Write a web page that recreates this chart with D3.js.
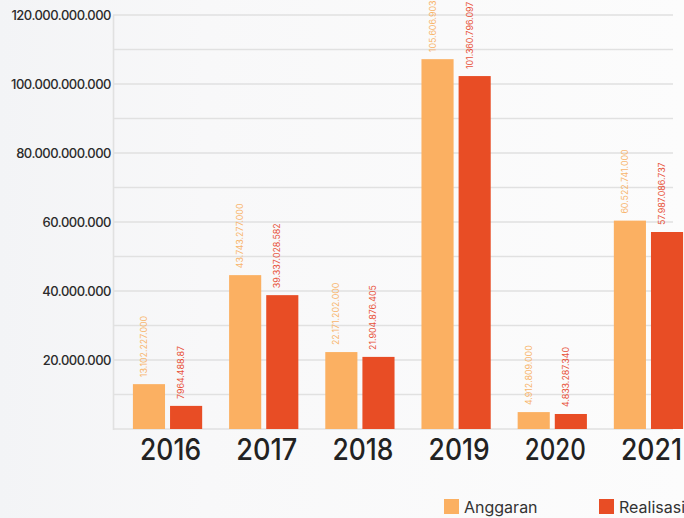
<!DOCTYPE html>
<html>
<head>
<meta charset="utf-8">
<script src="https://cdnjs.cloudflare.com/ajax/libs/d3/7.8.5/d3.min.js"></script>
<style>
    html, body {
        margin: 0;
        padding: 0;
        width: 684px;
        height: 518px;
        overflow: hidden;
        background: linear-gradient(90deg, #f3f4f6 0%, #f8f8f9 30%, #fcfcfc 100%);
    }
    #vis {
        width: 684px;
        height: 518px;
    }
    text {
        font-family: Inter, Lato, 'Noto Sans', sans-serif;
    }
</style>
</head>
<body>
<div id="vis"></div>
<script>
var years = ['2016', '2017', '2018', '2019', '2020', '2021'];
var series = ['Anggaran', 'Realisasi'];

// values in milyar rupiah
var anggaran = [13.0, 44.6, 22.3, 107.2, 4.9, 60.4];
var realisasi = [6.7, 38.8, 20.9, 102.3, 4.35, 57.1];

var anggaran_labels = ['13.102.227.000', '43.743.277.000', '22.171.202.000', '105.606.903.000', '4.912.809.000', '60.522.741.000'];
var realisasi_labels = ['7964.488.87', '39.337.028.582', '21.904.876.405', '101.360.796.097', '4.833.287.340', '57.987.086.737'];

var tick_values = [20, 40, 60, 80, 100, 120];
var tick_labels = ['20.000.000', '40.000.000', '60.000.000', '80.000.000.000', '100.000.000.000', '120.000.000.000'];
var grid_values = [0, 10, 20, 30, 40, 50, 60, 70, 80, 90, 100, 110, 120];

var colours = ['#fbb062', '#e84d25'];
var label_colours = ['#f8b56c', '#e8533a'];

var width = document.getElementById('vis').clientWidth;
var height = document.getElementById('vis').clientHeight;

var margin = {
    top: 15,
    bottom: 89,
    left: 113,
    right: 11
}

var svg = d3.select('#vis')
    .append('svg')
    .attr('width', width)
    .attr('height', height);

var g = svg.append('g')
    .attr('transform', 'translate(' + margin.left + ',' + margin.top + ')');

var inner_width = width - margin.left - margin.right;
var inner_height = height - margin.top - margin.bottom;

var x0 = d3.scaleBand()
    .domain(years)
    .range([0, 590])
    .paddingInner(0.28)
    .paddingOuter(0.207);

var x1 = d3.scaleBand()
    .domain(series)
    .range([0, x0.bandwidth()])
    .paddingInner(0.135);

var y_scale = d3.scaleLinear()
    .domain([0, 120])
    .range([inner_height, 0]);

var colour_scale = d3.scaleOrdinal()
    .domain(series)
    .range(colours);

var label_colour = d3.scaleOrdinal()
    .domain(series)
    .range(label_colours);

var data = years.map(function (year, i) {
    return {
        year: year,
        values: [
            { key: 'Anggaran', value: anggaran[i], label: anggaran_labels[i] },
            { key: 'Realisasi', value: realisasi[i], label: realisasi_labels[i] }
        ]
    };
});

// grid
g.append('g')
    .attr('class', 'grid')
    .selectAll('line')
    .data(grid_values)
    .enter()
    .append('line')
    .attr('x1', 0)
    .attr('x2', inner_width)
    .attr('y1', function (d) { return y_scale(d); })
    .attr('y2', function (d) { return y_scale(d); })
    .attr('stroke', '#e1e1e1')
    .attr('stroke-width', 1.6);

g.append('line')
    .attr('x1', 0.5)
    .attr('x2', 0.5)
    .attr('y1', y_scale(120))
    .attr('y2', y_scale(0) + 1)
    .attr('stroke', '#e1e1e1')
    .attr('stroke-width', 1.6);

// y axis
var y_axis = d3.axisLeft(y_scale)
    .tickValues(tick_values)
    .tickSize(0)
    .tickPadding(2)
    .tickFormat(function (d, i) { return tick_labels[i]; });

g.append('g')
    .attr('class', 'y axis')
    .call(y_axis)
    .call(function (a) { a.select('.domain').remove(); })
    .selectAll('text')
    .attr('fill', '#2b2b2b')
    .attr('font-family', 'Inter, sans-serif')
    .attr('font-size', '13px')
    .attr('font-weight', 500)
    .attr('letter-spacing', '-0.5px');

// bars
var groups = g.selectAll('.group')
    .data(data)
    .enter()
    .append('g')
    .attr('class', 'group')
    .attr('transform', function (d) {
        return 'translate(' + x0(d.year) + ',0)';
    });

groups.selectAll('rect')
    .data(function (d) { return d.values; })
    .enter()
    .append('rect')
    .attr('x', function (d) { return x1(d.key); })
    .attr('width', x1.bandwidth())
    .attr('y', function (d) { return y_scale(d.value); })
    .attr('height', function (d) { return inner_height - y_scale(d.value); })
    .attr('fill', function (d) { return colour_scale(d.key); });

groups.selectAll('.value')
    .data(function (d) { return d.values; })
    .enter()
    .append('text')
    .attr('class', 'value')
    .attr('transform', function (d) {
        var cx = x1(d.key) + x1.bandwidth() / 2 - 2;
        return 'translate(' + cx + ',' + (y_scale(d.value) - 7) + ') rotate(-90)';
    })
    .attr('font-family', 'Roboto, sans-serif')
    .attr('font-size', '8.8px')
    .attr('fill', function (d) { return label_colour(d.key); })
    .text(function (d) { return d.label; });

// x axis labels
var x_axis = d3.axisBottom(x0)
    .tickSize(0)
    .tickPadding(10);

g.append('g')
    .attr('class', 'x axis')
    .attr('transform', 'translate(3,' + inner_height + ')')
    .call(x_axis)
    .call(function (a) { a.select('.domain').remove(); })
    .selectAll('text')
    .attr('fill', '#222')
    .attr('font-size', '30px')
    .attr('font-weight', 500)
    .attr('font-family', 'Inter, sans-serif')
    .attr('textLength', 61)
    .attr('lengthAdjust', 'spacingAndGlyphs');

// legend
var legend_x = d3.scaleOrdinal()
    .domain(series)
    .range([444, 599]);

var legend = svg.selectAll('.legend')
    .data(series)
    .enter()
    .append('g')
    .attr('class', 'legend')
    .attr('transform', function (d) {
        return 'translate(' + legend_x(d) + ',499)';
    });

legend.append('rect')
    .attr('width', 15)
    .attr('height', 15)
    .attr('fill', function (d) { return colour_scale(d); });

legend.append('text')
    .attr('x', 20)
    .attr('y', 13.5)
    .attr('font-size', '16px')
    .attr('fill', '#333')
    .text(function (d) { return d; });
</script>
</body>
</html>
